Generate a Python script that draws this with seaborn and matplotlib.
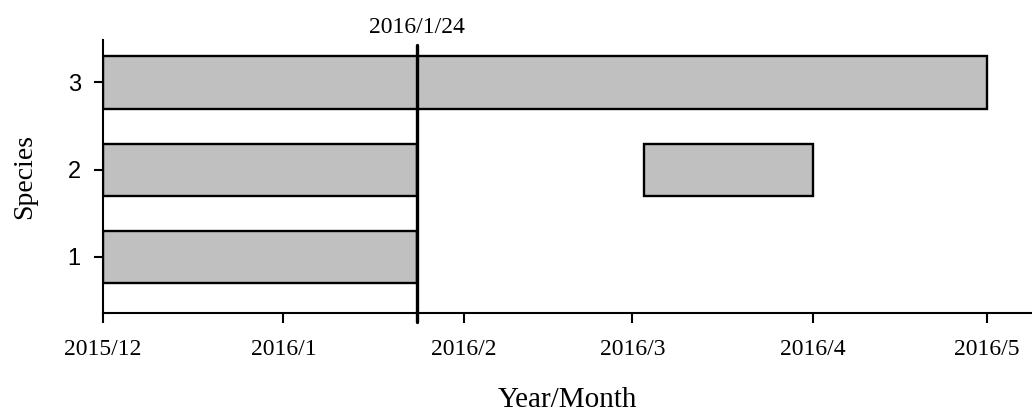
import matplotlib
matplotlib.use("Agg")
import matplotlib.pyplot as plt
import matplotlib.dates as mdates
import matplotlib.transforms as mtransforms
import pandas as pd
import seaborn as sns

# ---------------------------------------------------------
# Data
# ---------------------------------------------------------
species = [1, 2, 2, 3]
start_dates = ["2015-12-01", "2015-12-01", "2016-03-03", "2015-12-01"]
end_dates = ["2016-01-24", "2016-01-24", "2016-04-01", "2016-05-01"]

marker_date = "2016-01-24"
marker_label = "2016/1/24"

tick_dates = ["2015-12-01", "2016-01-01", "2016-02-01", "2016-03-01", "2016-04-01", "2016-05-01"]
tick_labels = ["2015/12", "2016/1", "2016/2", "2016/3", "2016/4", "2016/5"]

df = pd.DataFrame({
    "species": species,
    "start": pd.to_datetime(start_dates),
    "end": pd.to_datetime(end_dates),
})
df["left"] = mdates.date2num(df["start"])
df["width"] = mdates.date2num(df["end"]) - df["left"]

# ---------------------------------------------------------
# Style
# ---------------------------------------------------------
sns.set_style("ticks", {"axes.edgecolor": "black", "text.color": "black",
                        "axes.labelcolor": "black", "xtick.color": "black",
                        "ytick.color": "black"})
plt.rcParams["font.family"] = ["Liberation Serif", "DejaVu Serif"]
plt.rcParams["axes.linewidth"] = 1.5

fig = plt.figure(figsize=(10.32, 4.11), dpi=100)
ax = fig.add_axes([103 / 1032, 1 - 313 / 411, 1 - 103 / 1032, 273 / 411])

ax.barh(df["species"], df["width"], left=df["left"], height=0.6,
        color="#c0c0c0", edgecolor="black", linewidth=1.7)

x0 = mdates.date2num(pd.Timestamp(tick_dates[0]))
ax.set_xlim(x0, x0 + 159.7)
ax.set_ylim(0.358, 3.487)

# vertical marker line at 2016/1/24
xm = mdates.date2num(pd.Timestamp(marker_date))
ax.axvline(xm, ymin=-0.033, ymax=0.982, color="black", linewidth=2.4, clip_on=False)
trans = mtransforms.blended_transform_factory(ax.transData, ax.transAxes)
ax.text(xm, 1.026, marker_label, transform=trans, ha="center", va="baseline",
        fontsize=17, color="black")

ax.set_xticks(mdates.date2num(pd.to_datetime(tick_dates)))
ax.set_xticklabels(tick_labels, fontsize=17)
ax.set_yticks([1, 2, 3])
ax.set_yticklabels(["1", "2", "3"], fontsize=17, family=["Liberation Sans", "DejaVu Sans"])
ax.tick_params(axis="x", length=7, width=1.5, pad=12, colors="black")
ax.tick_params(axis="y", length=6.5, width=1.5, pad=9.5, colors="black")

ax.set_xlabel("Year/Month", fontsize=21, labelpad=19, color="black")
ax.set_ylabel("Species", fontsize=20, labelpad=22, color="black")

sns.despine(ax=ax, top=True, right=True)

fig.savefig("out.png", dpi=100)
